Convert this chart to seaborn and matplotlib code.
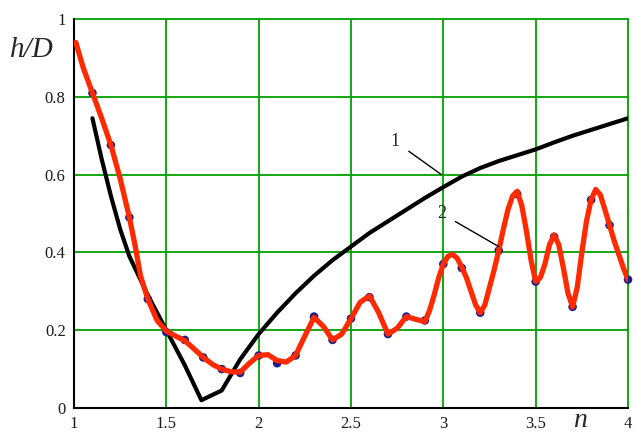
import numpy as np
import pandas as pd
import seaborn as sns
import matplotlib.pyplot as plt

# curve 1 (black)
n1 = [1.10, 1.15, 1.20, 1.25, 1.30, 1.40, 1.50, 1.60, 1.69, 1.80, 1.90, 2.00, 2.10, 2.20,
      2.30, 2.40, 2.50, 2.60, 2.70, 2.80, 2.90, 3.00, 3.10, 3.20, 3.30, 3.40, 3.50, 3.60,
      3.70, 3.80, 3.90, 4.00]
h1 = [0.745, 0.64, 0.545, 0.46, 0.39, 0.29, 0.20, 0.11, 0.02, 0.045, 0.125, 0.19, 0.245, 0.295,
      0.34, 0.38, 0.415, 0.45, 0.48, 0.51, 0.54, 0.568, 0.595, 0.617, 0.635, 0.65, 0.665, 0.683,
      0.70, 0.715, 0.73, 0.745]

# curve 2 (red line)
n2 = [1.01, 1.05, 1.10, 1.15, 1.20, 1.25, 1.30, 1.33, 1.36, 1.40, 1.45, 1.50, 1.55, 1.60,
      1.65, 1.70, 1.75, 1.80, 1.85, 1.90, 1.95, 2.00, 2.05, 2.10, 2.15, 2.20, 2.25, 2.30,
      2.35, 2.40, 2.45, 2.50, 2.55, 2.60, 2.65, 2.70, 2.75, 2.80, 2.85, 2.90,
      2.925, 2.95, 2.975, 3.00, 3.025, 3.05, 3.075, 3.10, 3.125, 3.15, 3.175, 3.20,
      3.225, 3.25, 3.275, 3.30, 3.325, 3.35, 3.375, 3.40, 3.425, 3.45, 3.475, 3.50,
      3.525, 3.55, 3.575, 3.60, 3.625, 3.65, 3.675, 3.70, 3.725, 3.75, 3.775, 3.80,
      3.825, 3.85, 3.875, 3.90, 3.925, 3.95, 3.975, 4.00]
h2 = [0.94, 0.875, 0.81, 0.745, 0.676, 0.59, 0.49, 0.42, 0.34, 0.28, 0.225, 0.198, 0.185, 0.173,
      0.152, 0.13, 0.112, 0.10, 0.093, 0.092, 0.115, 0.135, 0.137, 0.122, 0.118, 0.135, 0.185, 0.233,
      0.21, 0.175, 0.19, 0.23, 0.272, 0.288, 0.245, 0.19, 0.205, 0.235, 0.228, 0.222,
      0.25, 0.29, 0.335, 0.37, 0.39, 0.395, 0.385, 0.362, 0.335, 0.30, 0.265, 0.245,
      0.265, 0.31, 0.355, 0.405, 0.46, 0.51, 0.545, 0.557, 0.52, 0.455, 0.38, 0.325,
      0.335, 0.37, 0.42, 0.445, 0.42, 0.36, 0.295, 0.26, 0.31, 0.40, 0.48, 0.535,
      0.562, 0.548, 0.51, 0.47, 0.43, 0.395, 0.36, 0.33]

# measured points (blue dots)
n_pts = [1.10, 1.20, 1.30, 1.40, 1.50, 1.60, 1.70, 1.80, 1.90, 2.00, 2.10, 2.20, 2.30, 2.40,
         2.50, 2.60, 2.70, 2.80, 2.90, 3.00, 3.10, 3.20, 3.30, 3.40, 3.50, 3.60, 3.70, 3.80,
         3.90, 4.00]
h_pts = [0.81, 0.676, 0.49, 0.28, 0.195, 0.175, 0.13, 0.10, 0.09, 0.135, 0.115, 0.135, 0.235, 0.175,
         0.23, 0.285, 0.19, 0.235, 0.225, 0.37, 0.36, 0.245, 0.405, 0.55, 0.325, 0.44, 0.26, 0.535,
         0.47, 0.33]

x_ticks = [1, 1.5, 2, 2.5, 3, 3.5, 4]
y_ticks = [0, 0.2, 0.4, 0.6, 0.8, 1]

sns.set_theme(style="white")
plt.rcParams['font.family'] = ['Liberation Serif', 'DejaVu Serif']

fig = plt.figure(figsize=(6.35, 4.34), dpi=100)
ax = fig.add_axes([0.1165, 0.06, 0.8725, 0.896])

grid_c = "#00a000"
for v in x_ticks:
    ax.axvline(v, color=grid_c, lw=1.3, zorder=0, clip_on=False)
for v in y_ticks:
    ax.axhline(v, color=grid_c, lw=1.3, zorder=0, clip_on=False)

sns.lineplot(x=n1, y=h1, color="black", lw=3, ax=ax, zorder=3)
sns.scatterplot(x=n_pts, y=h_pts, color="#1c1c8a", s=38, edgecolor="none", ax=ax, zorder=4, clip_on=False)
sns.lineplot(x=n2, y=h2, color="#ff2a00", lw=3.8, ax=ax, zorder=5)

ax.set_xlim(1, 4)
ax.set_ylim(0, 1)
ax.set_xticks(x_ticks)
ax.set_yticks(y_ticks)
ax.set_xticklabels([f"{v:g}" for v in x_ticks])
ax.set_yticklabels([f"{v:g}" for v in y_ticks])
ax.tick_params(axis="both", direction="out", length=4, width=1.2, color="black",
               labelsize=12, pad=2, labelcolor="#1a1a1a")
ax.set_xlabel("")
ax.set_ylabel("")

for side in ["top", "right"]:
    ax.spines[side].set_visible(False)
for side in ["left", "bottom"]:
    ax.spines[side].set_color("black")
    ax.spines[side].set_linewidth(1.5)

ax.annotate("1", xy=(2.99, 0.60), xytext=(2.74, 0.685), fontsize=13, ha="center", va="center",
            arrowprops=dict(arrowstyle="-", color="black", lw=1, shrinkA=5, shrinkB=0), zorder=6)
ax.annotate("2", xy=(3.30, 0.415), xytext=(2.99, 0.50), fontsize=13, ha="center", va="center",
            arrowprops=dict(arrowstyle="-", color="black", lw=1, shrinkA=5, shrinkB=0), zorder=6)

fig.text(10 / 635, 1 - 50 / 434, "h/D", fontsize=21, style="italic", ha="left", va="center")
fig.text(580 / 635, 1 / 434, "n", fontsize=20, style="italic", ha="center", va="bottom")

fig.savefig("out.png", dpi=100)
